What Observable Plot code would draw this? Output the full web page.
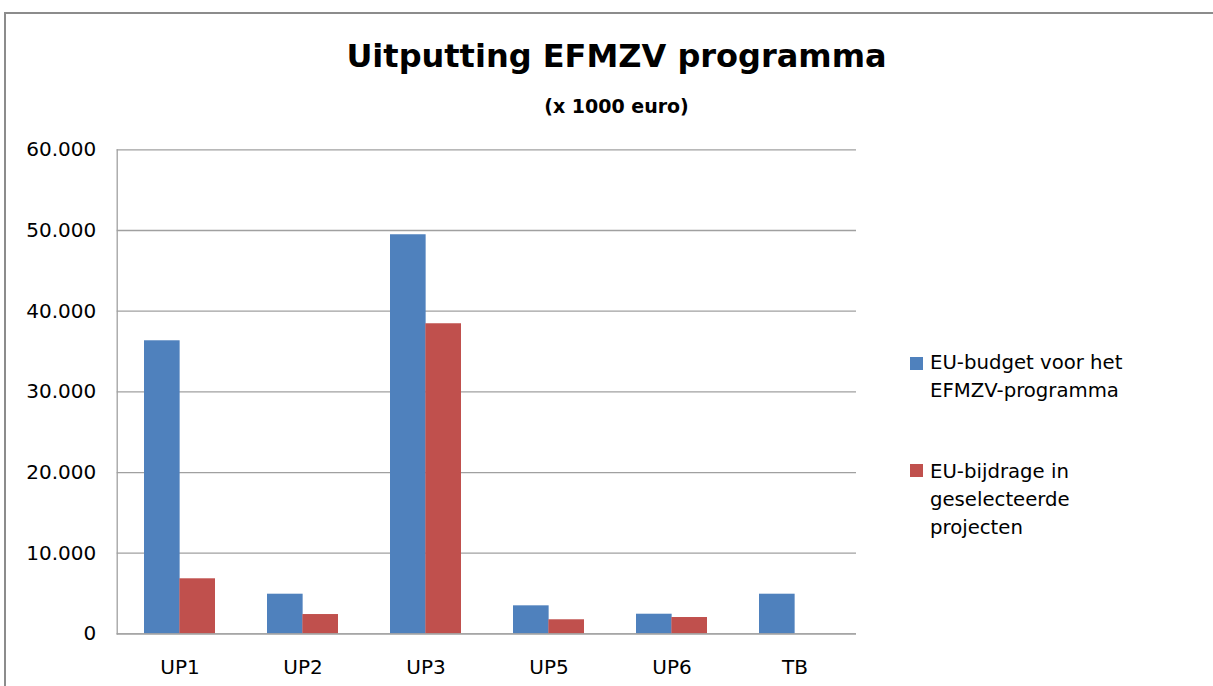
<!DOCTYPE html>
<html>
<head>
<meta charset="utf-8">
<script src="https://cdn.jsdelivr.net/npm/d3@7"></script>
<script src="https://cdn.jsdelivr.net/npm/@observablehq/plot@0.6"></script>
<style>
  html, body { margin: 0; padding: 0; background: #fff; }
  #wrap { position: relative; width: 1213px; height: 686px; overflow: hidden; background: #fff; font-family: "DejaVu Sans", sans-serif; color: #000; }
  #border { position: absolute; left: 4px; top: 12px; width: 1300px; height: 800px; border-top: 2px solid #8c8c8c; border-left: 2px solid #8c8c8c; box-sizing: border-box; }
  #chart { position: absolute; left: 0; top: 0; }
  .title { position: absolute; left: 0; width: 1233px; text-align: center; font-weight: bold; white-space: nowrap; }
  #t1 { top: 35.6px; font-size: 32px; line-height: 40px; }
  #t2 { top: 94.4px; font-size: 19px; line-height: 24px; }
  .leg { position: absolute; left: 930px; font-size: 19.7px; line-height: 28px; white-space: nowrap; }
  .sw { position: absolute; left: 910px; width: 13px; height: 13px; }
</style>
</head>
<body>
<div id="wrap">
  <div id="border"></div>
  <div id="chart"></div>
  <div class="title" id="t1"></div>
  <div class="title" id="t2"></div>
  <div id="legend"></div>
</div>
<script>
// ---- data ----
const title = "Uitputting EFMZV programma";
const subtitle = "(x 1000 euro)";
const categories = ["UP1", "UP2", "UP3", "UP5", "UP6", "TB"];
const seriesNames = ["EU-budget voor het\nEFMZV-programma", "EU-bijdrage in\ngeselecteerde\nprojecten"];
const seriesColors = ["#4f81bd", "#c0504d"];
const budget = [36330, 4920, 49470, 3480, 2440, 4920];
const bijdrage = [6830, 2400, 38440, 1750, 2030, 0];
const yTicks = [0, 10000, 20000, 30000, 40000, 50000, 60000];

const rowsBudget = categories.map((c, i) => ({cat: c, value: budget[i]}));
const rowsBijdrage = categories.map((c, i) => ({cat: c, value: bijdrage[i]}));

const nl = d3.formatLocale({decimal: ",", thousands: ".", grouping: [3], currency: ["€", ""]});
const fmt = nl.format(",d");

document.getElementById("t1").textContent = title;
document.getElementById("t2").textContent = subtitle;

const W = 1213, H = 686;
const mL = 116.7, mR = 357, mT = 149.3, mB = 52.6;
const step = (W - mL - mR) / categories.length;
const half = step * (1 - 0.426) / 2;

const chart = Plot.plot({
  width: W,
  height: H,
  marginLeft: mL,
  marginRight: mR,
  marginTop: mT,
  marginBottom: mB,
  style: {fontFamily: "DejaVu Sans, sans-serif", fontSize: "20px", color: "#000", background: "transparent"},
  x: {domain: categories, paddingInner: 0.426, paddingOuter: 0.213, label: null},
  y: {domain: [0, 60000], label: null},
  marks: [
    Plot.ruleY(yTicks, {stroke: "#a0a0a0", strokeWidth: 1.3}),
    Plot.barY(rowsBudget, {x: "cat", y: "value", fill: seriesColors[0], insetRight: half}),
    Plot.barY(rowsBijdrage, {x: "cat", y: "value", fill: seriesColors[1], insetLeft: half}),
    Plot.frame({anchor: "left", stroke: "#a0a0a0", strokeWidth: 1.3}),
    Plot.ruleY([0], {stroke: "#a0a0a0", strokeWidth: 1.3}),
    Plot.axisY({ticks: yTicks, tickSize: 0, tickPadding: 21, tickFormat: fmt, fontSize: 20, label: null}),
    Plot.axisX({tickSize: 0, tickPadding: 26, fontSize: 20, label: null})
  ]
});
document.getElementById("chart").appendChild(chart);

// legend
const legend = document.getElementById("legend");
const legTops = [349.2, 457.5];
const swTops = [357, 464];
seriesNames.forEach((name, i) => {
  const sw = document.createElement("div");
  sw.className = "sw";
  sw.style.top = swTops[i] + "px";
  sw.style.background = seriesColors[i];
  legend.appendChild(sw);
  const t = document.createElement("div");
  t.className = "leg";
  t.style.top = legTops[i] + "px";
  t.innerHTML = name.split("\n").join("<br>");
  legend.appendChild(t);
});
</script>
</body>
</html>
